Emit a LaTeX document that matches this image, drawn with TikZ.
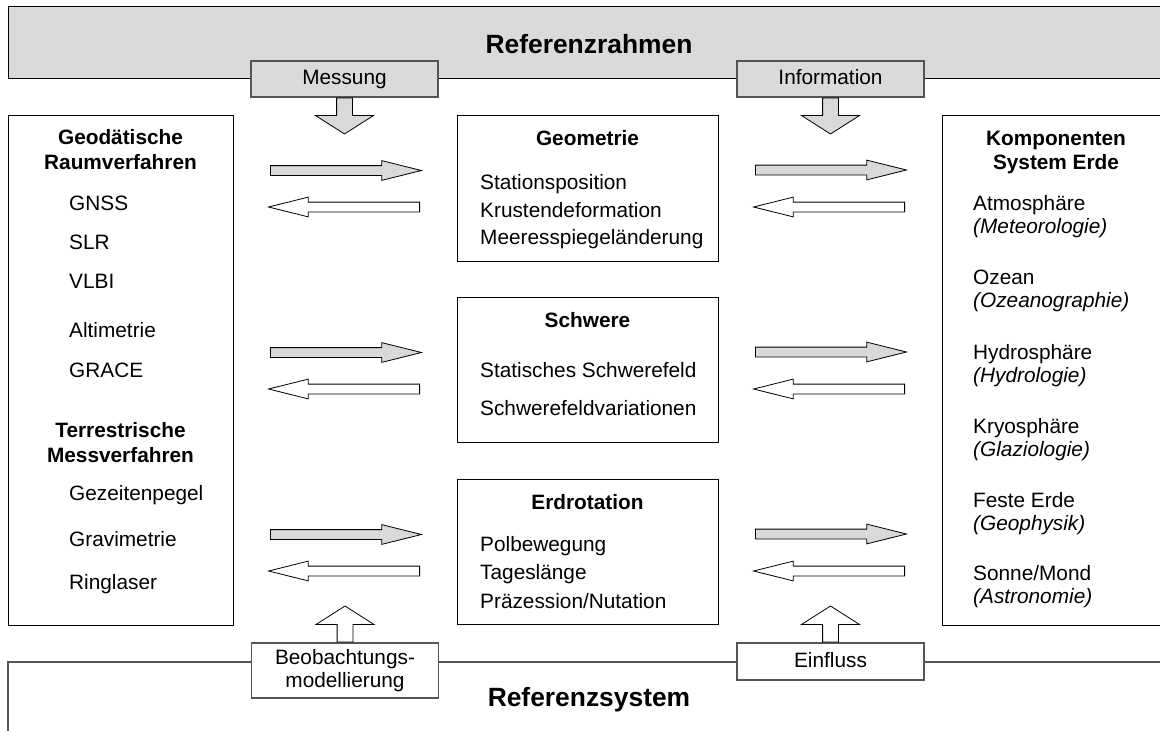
\documentclass[tikz,border=0pt]{standalone}
\usepackage{fontspec}
\setmainfont{Liberation Sans}
\usepackage{tikz}
\usetikzlibrary{shapes.arrows, positioning}
\definecolor{barcolor}{HTML}{DADADA}
\definecolor{arrowgray}{HTML}{D9D9D9}
\definecolor{framegray}{HTML}{555555}

\begin{document}
\begin{tikzpicture}[
    x=1pt, y=-1pt,
    every node/.style={font=\fontsize{20.8}{23}\selectfont},
    bigbox/.style={rectangle, draw=black, line width=1.2pt, anchor=north west, inner sep=0pt},
    tag/.style={rectangle, draw=framegray, line width=1.2pt, minimum width=187pt, align=center, inner sep=0pt},
    item/.style={anchor=base west, inner sep=0pt},
    head/.style={anchor=base, inner sep=0pt, font=\fontsize{20.8}{23}\selectfont\bfseries},
    title/.style={anchor=base, inner sep=0pt, font=\fontsize{26.4}{30}\selectfont\bfseries},
    hpfeil/.style={single arrow, draw=black, line width=0.8pt, inner xsep=0pt, inner ysep=4.5pt, minimum height=151pt, single arrow head extend=5pt, single arrow tip angle=28, anchor=tail},
    vpfeil/.style={single arrow, draw=black, line width=0.8pt, inner xsep=0pt, inner ysep=7.5pt, minimum height=36pt, single arrow head extend=21pt, single arrow tip angle=115, anchor=tail}
]
    \useasboundingbox (0,0) rectangle (1160,731);
    \clip (0,0) rectangle (1160,731);

    % Referenzrahmen
    \node[bigbox, fill=barcolor, minimum width=1162pt, minimum height=72pt] (rahmen) at (8,6) {};
    \node[title] (rahmentitel) at (589,53.5) {Referenzrahmen};
    \node[tag, fill=barcolor, minimum height=36pt, text height=15pt, text depth=4pt] (messung) at (344.5,79) {Messung};
    \node[tag, fill=barcolor, minimum height=36pt, text height=15pt, text depth=4pt] (information) at (830.5,79) {Information};

    % Referenzsystem
    \coordinate (sysrechts) at (1170,662);
    \coordinate (syslinks) at (8,740);
    \draw[framegray, line width=1.2pt] (sysrechts) -| (syslinks);
    \node[title] (systemtitel) at (589,706) {Referenzsystem};
    \node[tag, fill=white, minimum height=55pt] (beob) at (345,670.5) {Beobachtungs-\\modellierung};
    \node[tag, fill=white, minimum height=37pt, text height=15pt, text depth=4pt] (einfluss) at (830.5,661.5) {Einfluss};

    % Messverfahren
    \node[bigbox, minimum width=225pt, minimum height=510pt] (verfahren) at (8,115) {};
    \node[head] (geod1) at (120.5,144) {Geodätische};
    \node[head] (geod2) at (120.5,169) {Raumverfahren};
    \node[head] (terr1) at (120.5,437) {Terrestrische};
    \node[head] (terr2) at (120.5,462) {Messverfahren};
    \foreach \y/\t [count=\i] in {210/GNSS, 249/SLR, 288/VLBI, 337/Altimetrie, 377/GRACE,
        500/Gezeitenpegel, 546/Gravimetrie, 589/Ringlaser}
        \node[item] (v\i) at (69,\y) {\t};

    % Geometrie, Schwere, Erdrotation
    \node[bigbox, minimum width=261pt, minimum height=146pt] (geometrie) at (457,115) {};
    \node[bigbox, minimum width=261pt, minimum height=145pt] (schwere) at (457,297) {};
    \node[bigbox, minimum width=261pt, minimum height=145pt] (erdrotation) at (457,479) {};
    \node[head] (geotitel) at (587.5,145) {Geometrie};
    \node[head] (schwtitel) at (587.5,327) {Schwere};
    \node[head] (rottitel) at (587.5,509) {Erdrotation};
    \foreach \y/\t [count=\i] in {189/Stationsposition, 217/Krustendeformation, 244/Meeresspiegeländerung,
        377/Statisches Schwerefeld, 415/Schwerefeldvariationen,
        551/Polbewegung, 579/Tageslänge, 608/Präzession\slash Nutation}
        \node[item] (g\i) at (480,\y) {\t};

    % Komponenten System Erde
    \node[bigbox, minimum width=228pt, minimum height=510pt] (komponenten) at (942,115) {};
    \node[head] (komp1) at (1056,145) {Komponenten};
    \node[head] (komp2) at (1056,169) {System Erde};
    \foreach \y/\t/\d [count=\i] in {210/Atmosphäre/Meteorologie, 284/Ozean/Ozeanographie,
        359/Hydrosphäre/Hydrologie, 433/Kryosphäre/Glaziologie,
        507/Feste Erde/Geophysik, 580/Sonne\slash Mond/Astronomie}
    {
        \node[item] (k\i) at (973,\y) {\t};
        \node[item, font=\fontsize{20.8}{23}\selectfont\itshape] (d\i) at (973,\y+23) {(\d)};
    }

    % Pfeile
    \node[vpfeil, fill=arrowgray, rotate=-90] (messpfeil) at (messung.south) {};
    \node[vpfeil, fill=arrowgray, rotate=-90] (infopfeil) at (information.south) {};
    \node[vpfeil, fill=white, rotate=90] (beobpfeil) at (beob.north) {};
    \node[vpfeil, fill=white, rotate=90] (einflusspfeil) at (einfluss.north) {};
    \foreach \y [count=\i] in {0,182,364}
    {
        \node[hpfeil, fill=arrowgray] (lhin\i) at (270,170.5+\y) {};
        \node[hpfeil, fill=white, rotate=180] (lher\i) at (420,207+\y) {};
        \node[hpfeil, fill=arrowgray] (rhin\i) at (755,170+\y) {};
        \node[hpfeil, fill=white, rotate=180] (rher\i) at (905,207+\y) {};
    }
\end{tikzpicture}
\end{document}
